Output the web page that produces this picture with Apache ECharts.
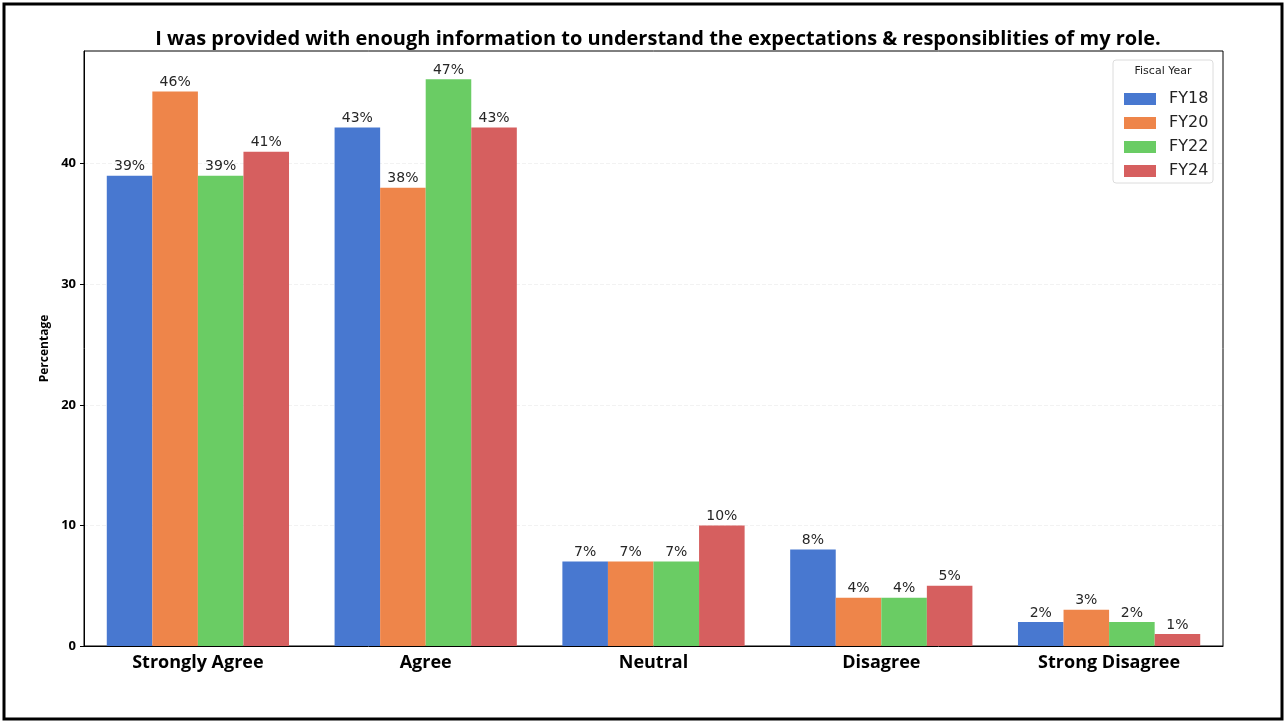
<!DOCTYPE html>
<html lang="en">
<head>
    <meta charset="UTF-8">
    <title>Role expectations survey</title>
    <script type="text/javascript" src="https://cdn.jsdelivr.net/npm/echarts@6/dist/echarts.min.js"></script>
    <style>
        html, body { margin: 0; padding: 0; background: #fff; }
    </style>
</head>
<body>
<div id="main" style="width: 1287px;height:722px;"></div>

<script type="text/javascript">
    // categories and values (percent)
    var categories = ['Strongly Agree', 'Agree', 'Neutral', 'Disagree', 'Strong Disagree'];
    var years = ['FY18', 'FY20', 'FY22', 'FY24'];
    var fy18 = [39, 43, 7, 8, 2];
    var fy20 = [46, 38, 7, 4, 3];
    var fy22 = [39, 47, 7, 4, 2];
    var fy24 = [41, 43, 10, 5, 1];
    var yTicks = [0, 10, 20, 30, 40];
    var colors = ['#4878d0', '#ee854a', '#6acc64', '#d65f5f'];

    var myChart = echarts.init(document.getElementById('main'));

    var allValues = [fy18, fy20, fy22, fy24];
    var series = years.map(function (name, i) {
        return {
            name: name,
            type: 'bar',
            data: allValues[i],
            barGap: '0%',
            barCategoryGap: '20%',
            itemStyle: {color: colors[i]},
            label: {
                show: true,
                position: 'top',
                distance: 2,
                formatter: '{c}%',
                fontFamily: 'DejaVu Sans',
                fontSize: 14,
                color: '#262626'
            }
        };
    });

    myChart.setOption({
        animation: false,
        title: {
            text: 'I was provided with enough information to understand the expectations & responsiblities of my role.',
            left: 653,
            textAlign: 'center',
            top: 24,
            textStyle: {fontFamily: 'Open Sans', fontWeight: 'bold', fontSize: 20, color: '#000'}
        },
        graphic: [
            {type: 'rect', shape: {x: 4, y: 4, width: 1278, height: 715},
                style: {fill: null, stroke: '#000', lineWidth: 3}},
            {type: 'rect', shape: {x: 1113, y: 60, width: 100, height: 123, r: 3},
                style: {fill: '#fff', stroke: '#dcdcdc', lineWidth: 1}, z: 5},
            {type: 'text', x: 1163, y: 66, z: 6,
                style: {text: 'Fiscal Year', fontFamily: 'DejaVu Sans', fontSize: 11, fill: '#222', textAlign: 'center'}}
        ],
        legend: {
            data: years,
            orient: 'vertical',
            left: 1119,
            top: 86,
            itemWidth: 32,
            itemHeight: 12,
            itemGap: 8,
            icon: 'rect',
            z: 7,
            textStyle: {fontFamily: 'DejaVu Sans', fontSize: 16, lineHeight: 15, color: '#222', padding: [0, 0, 0, 8]}
        },
        grid: {
            left: 84, right: 64, top: 51, bottom: 76,
            show: true, borderColor: '#000', borderWidth: 1, containLabel: false
        },
        xAxis: {
            type: 'category',
            data: categories,
            axisLine: {lineStyle: {color: '#000', width: 1}},
            axisTick: {alignWithLabel: true, length: 4, lineStyle: {color: '#000'}},
            axisLabel: {fontFamily: 'Open Sans', fontWeight: 'bold', fontSize: 18, color: '#000', margin: 8}
        },
        yAxis: {
            type: 'value',
            min: 0,
            max: 49.35,
            interval: 10,
            name: 'Percentage',
            nameLocation: 'middle',
            nameGap: 28,
            nameTextStyle: {fontFamily: 'Open Sans', fontWeight: 'bold', fontSize: 12, color: '#000'},
            axisLine: {show: true, lineStyle: {color: '#000'}},
            axisTick: {show: true, length: 4, lineStyle: {color: '#000'}},
            axisLabel: {
                fontFamily: 'Open Sans', fontWeight: 'bold', fontSize: 13, color: '#000', margin: 8,
                showMaxLabel: false,
                formatter: function (v) { return yTicks.indexOf(v) >= 0 ? String(v) : ''; }
            },
            splitLine: {show: true, showMaxLine: false, lineStyle: {color: '#f2f2f2', type: 'dashed'}}
        },
        series: series
    });
</script>
</body>
</html>
